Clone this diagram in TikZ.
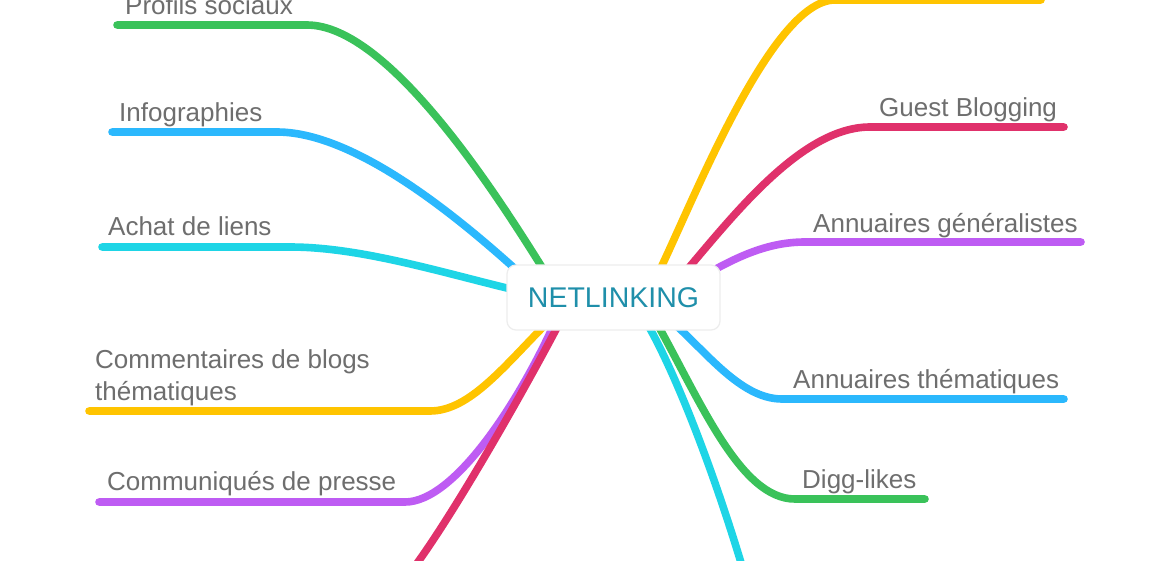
\documentclass[tikz,border=0pt]{standalone}
\usepackage{fontspec}
\setmainfont{Liberation Sans}
\usetikzlibrary{backgrounds}
\definecolor{cgreen}{HTML}{3AC25A}
\definecolor{cblue}{HTML}{2BB8FD}
\definecolor{ccyan}{HTML}{1ED5E6}
\definecolor{cyellow}{HTML}{FFC400}
\definecolor{cpurple}{HTML}{BE5CF3}
\definecolor{cred}{HTML}{E0316B}
\definecolor{labelgray}{HTML}{6E6E6E}
\definecolor{rootteal}{HTML}{1F8FAA}
\definecolor{rootborder}{HTML}{EDEDED}
\begin{document}
\begin{tikzpicture}[x=1pt,y=-1pt,
  br/.style={line width=7.6pt, line cap=round, draw=#1},
  lbl/.style={anchor=base west, inner sep=0pt, text=labelgray,
    font={\fontsize{26}{32}\selectfont}, align=left},
  rootbox/.style={draw=rootborder, line width=1.2pt, fill=white,
    rounded corners=9pt, minimum width=213pt, minimum height=65pt,
    inner sep=0pt, text=rootteal, font={\fontsize{28.5}{34}\selectfont}}]
\useasboundingbox (0,0) rectangle (1170,560);

% central node
\node[rootbox] (root) at (613.5,297.5) {NETLINKING};

% labels
\node[lbl] (lPS) at (125,14)  {Profils sociaux};
\node[lbl] (lIG) at (119,121) {Infographies};
\node[lbl] (lAL) at (108,235) {Achat de liens};
\node[lbl] (lCB) at (95,400)  {Commentaires de blogs\\thématiques};
\node[lbl] (lCP) at (107,490) {Communiqués de presse};
\node[lbl] (lGB) at (879,116) {Guest Blogging};
\node[lbl] (lAG) at (813,232) {Annuaires généralistes};
\node[lbl] (lAT) at (793,388) {Annuaires thématiques};
\node[lbl] (lDL) at (802,488) {Digg-likes};

% free ends of the branches
\coordinate (ePS) at (117,25);
\coordinate (eIG) at (112,132);
\coordinate (eAL) at (102,247);
\coordinate (eCB) at (89,411);
\coordinate (eCP) at (99,502);
\coordinate (eBL) at (400,585);
\coordinate (eTR) at (1041,0);
\coordinate (eGB) at (1064,127);
\coordinate (eAG) at (1081,242);
\coordinate (eAT) at (1064,399);
\coordinate (eDL) at (925,499);
\coordinate (eBR) at (752,600);

\begin{pgfonlayer}{background}
\fill[white] (0,0) rectangle (1170,560);
\begin{scope}
\clip (0,0) rectangle (1170,560);
% left side
\draw[br=cgreen]  ([shift={(-68.5,-25.5)}]root.center) .. controls (500,200) and (390,25) .. (307,25) -- (ePS);
\draw[br=cblue]   ([shift={(-91.5,-22.5)}]root.center) .. controls (470,228) and (360,132) .. (277,132) -- (eIG);
\draw[br=ccyan]   ([shift={(-98.5,-7.5)}]root.center) .. controls (440,272) and (360,247) .. (290,247) -- (eAL);
\draw[br=cyellow] ([shift={(-65.5,24.5)}]root.center) .. controls (505,365) and (470,411) .. (430,411) -- (eCB);
\draw[br=cpurple] ([shift={(-58.5,24.5)}]root.center) .. controls (520,400) and (455,502) .. (405,502) -- (eCP);
\draw[br=cred]    ([shift={(-51.5,20.5)}]root.center) .. controls (530,380) and (440,540) .. (eBL);
% right side
\draw[br=cyellow] ([shift={(41.5,-17.5)}]root.center) .. controls (690,210) and (770,0) .. (835,0) -- (eTR);
\draw[br=cred]    ([shift={(66.5,-19.5)}]root.center) .. controls (730,220) and (800,127) .. (870,127) -- (eGB);
\draw[br=cpurple] ([shift={(91.5,-22.5)}]root.center) .. controls (740,255) and (770,242) .. (805,242) -- (eAG);
\draw[br=cblue]   ([shift={(56.5,22.5)}]root.center) .. controls (705,350) and (740,399) .. (782,399) -- (eAT);
\draw[br=cgreen]  ([shift={(41.5,22.5)}]root.center) .. controls (700,400) and (740,499) .. (795,499) -- (eDL);
\draw[br=ccyan]   ([shift={(31.5,22.5)}]root.center) .. controls (672,365) and (715,470) .. (eBR);
\end{scope}
\end{pgfonlayer}
\end{tikzpicture}
\end{document}
